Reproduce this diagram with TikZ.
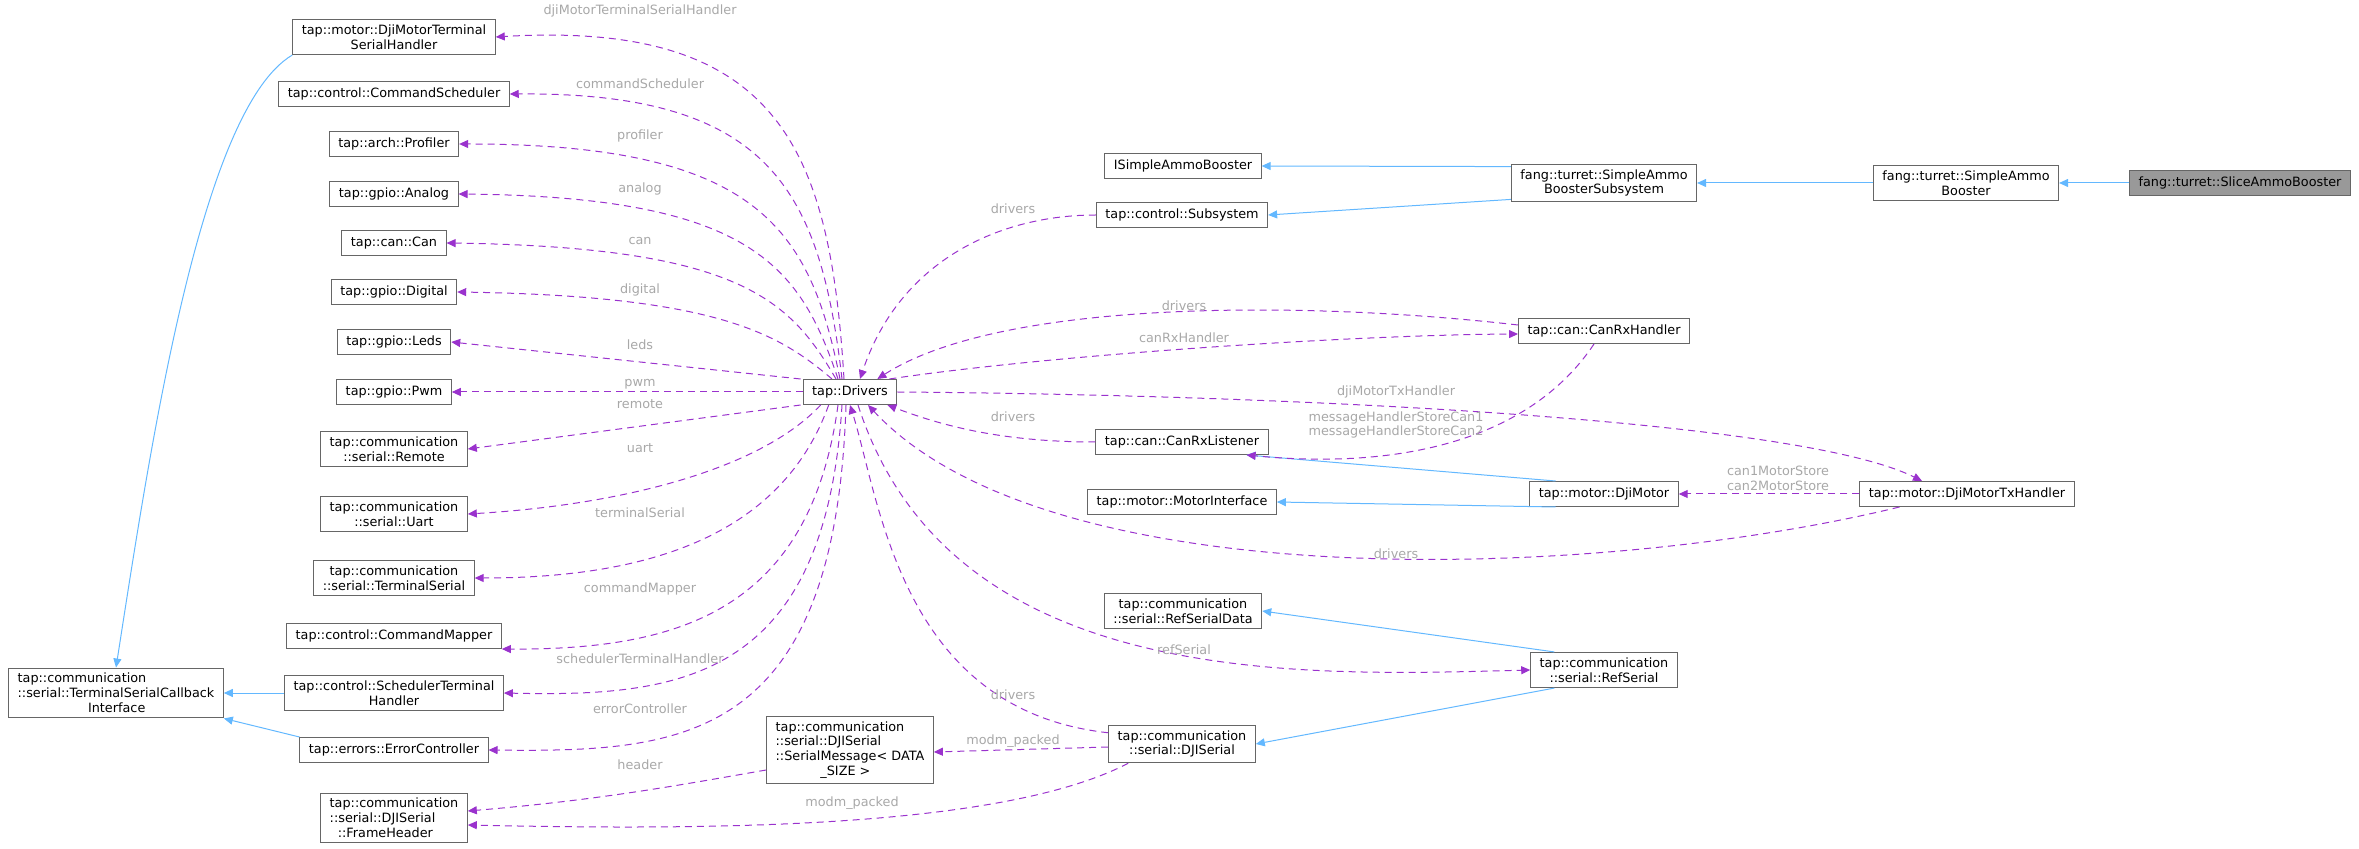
\documentclass[tikz,border=0pt]{standalone}
\usepackage{fontspec}
\setmainfont{DejaVu Sans}
\usetikzlibrary{arrows.meta,calc}
\definecolor{usec}{HTML}{9A32CD}
\definecolor{inhc}{HTML}{63B8FF}
\definecolor{lblc}{HTML}{A8A8A8}
\begin{document}
\begin{tikzpicture}[x=0.5pt,y=-0.5pt,
  box/.style={draw=black!60,fill=white,line width=0.5pt,font=\fontsize{6.4}{7.4}\selectfont,inner xsep=4.5pt,inner ysep=2.6pt,align=center,minimum height=12.5pt},
  use/.style={draw=usec,line width=0.5pt,dash pattern=on 3.5pt off 2.5pt,-{Triangle[length=4.5pt,width=4pt]}},
  inh/.style={draw=inhc,line width=0.5pt,-{Triangle[length=4.5pt,width=4pt,fill=inhc]}},
  lb/.style={text=lblc,font=\fontsize{6.4}{7.4}\selectfont,align=center,inner sep=0pt}]
\useasboundingbox (0,0) rectangle (2359,849);
% nodes
\node[box] (dmtsh) at (394,37) {tap::motor::DjiMotorTerminal\\SerialHandler};
\node[box] (cs) at (394,94) {tap::control::CommandScheduler};
\node[box] (prof) at (394,144) {tap::arch::Profiler};
\node[box] (ana) at (394,194) {tap::gpio::Analog};
\node[box] (can) at (394,243) {tap::can::Can};
\node[box] (dig) at (394,292) {tap::gpio::Digital};
\node[box] (leds) at (394,342) {tap::gpio::Leds};
\node[box] (pwm) at (394,392) {tap::gpio::Pwm};
\node[box] (rem) at (394,449) {tap::communication\\::serial::Remote};
\node[box] (uart) at (394,514) {tap::communication\\::serial::Uart};
\node[box] (ts) at (394,578) {tap::communication\\::serial::TerminalSerial};
\node[box] (cm) at (394,636) {tap::control::CommandMapper};
\node[box] (sth) at (394,693) {tap::control::SchedulerTerminal\\Handler};
\node[box] (ec) at (394,750) {tap::errors::ErrorController};
\node[box,align=left] (fh) at (394,818) {tap::communication\\::serial::DJISerial\\\ \ ::FrameHeader};
\node[box,align=left] (tsci) at (116,693) {tap::communication\\::serial::TerminalSerialCallback\\\hspace*{5.5em}Interface};
\node[box] (drv) at (850,392) {tap::Drivers};
\node[box,align=left] (sm) at (850,750) {tap::communication\\::serial::DJISerial\\::SerialMessage< DATA\\\hspace*{3.5em}\_SIZE >};
\node[box] (isab) at (1183,166) {ISimpleAmmoBooster};
\node[box] (sub) at (1182,215) {tap::control::Subsystem};
\node[box] (crl) at (1182,442) {tap::can::CanRxListener};
\node[box] (mi) at (1182,502) {tap::motor::MotorInterface};
\node[box] (rsd) at (1183,611) {tap::communication\\::serial::RefSerialData};
\node[box] (dj) at (1182,744) {tap::communication\\::serial::DJISerial};
\node[box] (sabs) at (1604,183) {fang::turret::SimpleAmmo\\BoosterSubsystem};
\node[box] (sab) at (1966,183) {fang::turret::SimpleAmmo\\Booster};
\node[box,fill=black!40] (slice) at (2240,183) {fang::turret::SliceAmmoBooster};
\node[box] (crh) at (1604,331) {tap::can::CanRxHandler};
\node[box] (dm) at (1604,494) {tap::motor::DjiMotor};
\node[box] (dmtx) at (1967,494) {tap::motor::DjiMotorTxHandler};
\node[box] (rs) at (1604,670) {tap::communication\\::serial::RefSerial};
% blue inheritance
\draw[inh] (dmtsh.south west) .. controls (200,110) and (150,450) .. (tsci.north);
\draw[inh] (sth.west) -- (tsci.east);
\draw[inh] (ec.north west) -- (tsci.south east);
\draw[inh] (sabs.170) -- (isab.east);
\draw[inh] (sabs.190) -- (sub.east);
\draw[inh] (sab.west) -- (sabs.east);
\draw[inh] (slice.west) -- (sab.east);
\draw[inh] (dm.165) -- ($(crl.south east)+(-22,0)$);
\draw[inh] (dm.195) -- (mi.east);
\draw[inh] (rs.160) -- (rsd.east);
\draw[inh] (rs.200) -- (dj.east);
% purple usage from Drivers
\draw[use] ($(drv.north)+(-6,0)$) .. controls (830,150) and (780,20) .. (dmtsh.east);
\draw[use] ($(drv.north)+(-8,0)$) .. controls (820,190) and (770,92) .. (cs.east);
\draw[use] ($(drv.north)+(-10,0)$) .. controls (810,230) and (760,144) .. (prof.east);
\draw[use] ($(drv.north)+(-12,0)$) .. controls (800,265) and (750,197) .. (ana.east);
\draw[use] ($(drv.north)+(-14,0)$) .. controls (790,300) and (740,247) .. (can.east);
\draw[use] ($(drv.north)+(-18,0)$) .. controls (780,335) and (720,296) .. (dig.east);
\draw[use] ($(drv.north west)+(-2,0)$) -- (leds.east);
\draw[use] (drv.west) -- (pwm.east);
\draw[use] ($(drv.south west)+(-2,0)$) -- (rem.east);
\draw[use] ($(drv.south west)+(18,0)$) .. controls (760,470) and (620,505) .. (uart.east);
\draw[use] ($(drv.south west)+(26,0)$) .. controls (780,540) and (640,578) .. (ts.east);
\draw[use] ($(drv.south)+(-12,0)$) .. controls (810,610) and (680,650) .. (cm.south east);
\draw[use] ($(drv.south)+(-8,0)$) .. controls (825,680) and (680,697) .. (sth.east);
\draw[use] ($(drv.south)+(-4,0)$) .. controls (835,745) and (680,752) .. (ec.east);
\draw[use] (drv.east) .. controls (1300,395) and (1800,420) .. ($(dmtx.north)+(-45,0)$);
\draw[use] ($(drv.north east)+(-8,0)$) .. controls (1050,355) and (1350,335) .. ($(crh.west)+(0,3)$);
\draw[use] ($(drv.south)+(8,0)$) .. controls (950,690) and (1300,676) .. (rs.west);
% purple into Drivers
\draw[use] (sub.west) .. controls (1000,215) and (900,260) .. ($(drv.north)+(10,0)$);
\draw[use] ($(crh.west)+(0,-6)$) .. controls (1300,300) and (1000,300) .. ($(drv.north east)+(-20,0)$);
\draw[use] (crl.west) .. controls (1000,442) and (940,425) .. ($(drv.south east)+(-10,0)$);
\draw[use] ($(dmtx.south west)+(40,0)$) .. controls (1600,580) and (1050,600) .. ($(drv.south)+(18,0)$);
\draw[use] ($(dj.north west)+(0,8)$) .. controls (900,710) and (880,500) .. (drv.south);
\draw[use] ($(crh.south)+(-10,0)$) .. controls (1530,440) and (1400,470) .. ($(crl.south east)+(-22,0)$);
\draw[use] (dmtx.west) -- (dm.east);
\draw[use] ($(dj.west)+(0,3)$) -- ($(sm.east)+(0,2)$);
\draw[use] ($(dj.south west)+(20,0)$) .. controls (1000,830) and (700,830) .. ($(fh.east)+(0,7)$);
\draw[use] ($(sm.west)+(0,20)$) .. controls (680,785) and (600,800) .. ($(fh.east)+(0,-7)$);
% labels
\node[lb] (l1) at (640,11) {djiMotorTerminalSerialHandler};
\node[lb] (l2) at (640,84) {commandScheduler};
\node[lb] (l3) at (640,136) {profiler};
\node[lb] (l4) at (640,189) {analog};
\node[lb] (l5) at (640,241) {can};
\node[lb] (l6) at (640,290) {digital};
\node[lb] (l7) at (640,345) {leds};
\node[lb] (l8) at (640,384) {pwm};
\node[lb] (l9) at (640,404) {remote};
\node[lb] (l10) at (640,448) {uart};
\node[lb] (l11) at (640,513) {terminalSerial};
\node[lb] (l12) at (640,589) {commandMapper};
\node[lb] (l13) at (640,659) {schedulerTerminalHandler};
\node[lb] (l14) at (640,709) {errorController};
\node[lb] (l15) at (640,765) {header};
\node[lb] (l16) at (852,803) {modm\_packed};
\node[lb] (l17) at (1013,741) {modm\_packed};
\node[lb] (l18) at (1013,695) {drivers};
\node[lb] (l19) at (1013,209) {drivers};
\node[lb] (l20) at (1013,417) {drivers};
\node[lb] (l21) at (1184,306) {drivers};
\node[lb] (l22) at (1184,338) {canRxHandler};
\node[lb] (l23) at (1396,392) {djiMotorTxHandler};
\node[lb] (l24) at (1396,425) {messageHandlerStoreCan1\\messageHandlerStoreCan2};
\node[lb] (l25) at (1778,478) {can1MotorStore\\can2MotorStore};
\node[lb] (l26) at (1396,554) {drivers};
\node[lb] (l27) at (1184,650) {refSerial};
\end{tikzpicture}
\end{document}
